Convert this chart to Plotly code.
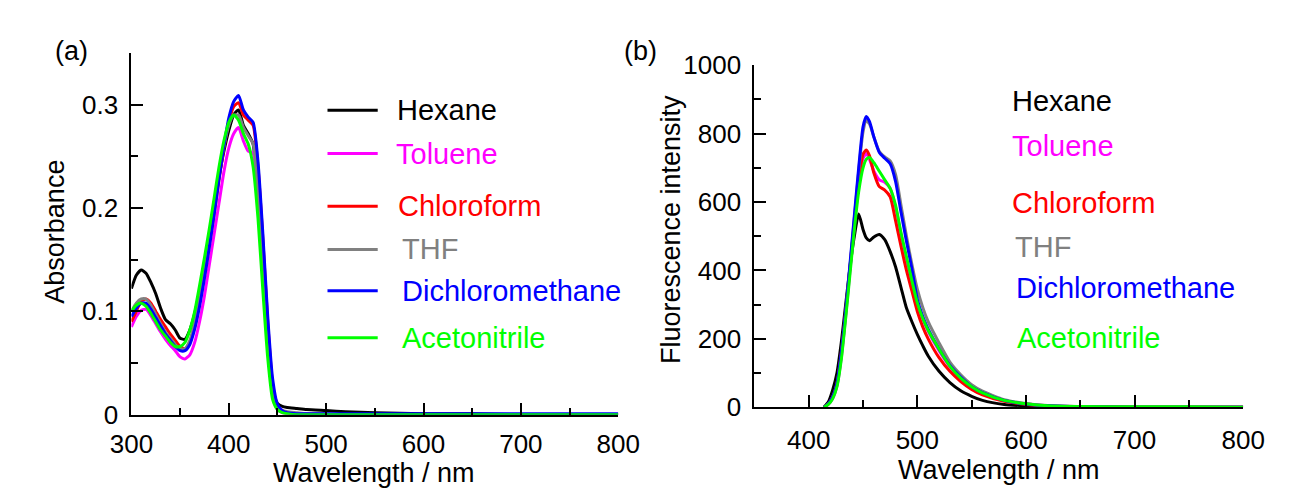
import plotly.graph_objects as go

# ---------------- data: (a) absorption ----------------
abs_wl = [300, 305, 310, 315, 320, 325, 330, 335, 340, 345, 350, 355, 360, 365, 370, 375,
          380, 385, 390, 395, 400, 405, 410, 415, 420, 425, 430, 435, 440, 445, 450, 455,
          460, 470, 480, 500, 520, 550, 600, 650, 700, 750, 800]

abs_hexane = [0.122, 0.135, 0.140, 0.137, 0.128, 0.117, 0.103, 0.092, 0.088, 0.082, 0.074, 0.073,
              0.082, 0.098, 0.120, 0.145, 0.172, 0.200, 0.230, 0.255, 0.275, 0.290, 0.295, 0.280,
              0.272, 0.262, 0.210, 0.140, 0.070, 0.025, 0.011, 0.008, 0.007, 0.006, 0.005, 0.004,
              0.003, 0.002, 0.001, 0.001, 0.0, 0.0, 0.0]
abs_toluene = [0.085, 0.095, 0.101, 0.102, 0.096, 0.088, 0.080, 0.073, 0.067, 0.062, 0.056, 0.054,
               0.058, 0.070, 0.090, 0.115, 0.145, 0.175, 0.205, 0.235, 0.258, 0.272, 0.278, 0.265,
               0.255, 0.253, 0.210, 0.140, 0.070, 0.020, 0.005, 0.002, 0.001, 0.0, 0.0, 0.0,
               0.0, 0.0, 0.0, 0.0, 0.0, 0.0, 0.0]
abs_chloroform = [0.090, 0.100, 0.110, 0.112, 0.108, 0.100, 0.092, 0.085, 0.078, 0.072, 0.066, 0.064,
                  0.070, 0.085, 0.108, 0.135, 0.165, 0.195, 0.228, 0.258, 0.283, 0.298, 0.302, 0.290,
                  0.285, 0.280, 0.240, 0.170, 0.090, 0.030, 0.008, 0.004, 0.002, 0.001, 0.001, 0.0,
                  0.0, 0.0, 0.0, 0.0, 0.0, 0.0, 0.0]
abs_thf = [0.100, 0.108, 0.112, 0.112, 0.106, 0.097, 0.088, 0.080, 0.074, 0.068, 0.064, 0.064,
           0.072, 0.090, 0.113, 0.140, 0.170, 0.200, 0.232, 0.260, 0.280, 0.290, 0.290, 0.278,
           0.270, 0.262, 0.220, 0.150, 0.075, 0.025, 0.008, 0.004, 0.003, 0.002, 0.001, 0.001,
           0.0, 0.0, 0.0, 0.0, 0.0, 0.0, 0.0]
abs_dcm = [0.095, 0.103, 0.108, 0.108, 0.102, 0.094, 0.086, 0.078, 0.072, 0.066, 0.062, 0.062,
           0.068, 0.083, 0.105, 0.132, 0.162, 0.194, 0.228, 0.260, 0.287, 0.303, 0.309, 0.295,
           0.288, 0.283, 0.245, 0.175, 0.095, 0.035, 0.010, 0.004, 0.002, 0.001, 0.001, 0.001,
           0.001, 0.001, 0.001, 0.001, 0.001, 0.001, 0.001]
abs_acetonitrile = [0.100, 0.106, 0.108, 0.105, 0.098, 0.090, 0.082, 0.076, 0.070, 0.066, 0.066, 0.070,
                    0.082, 0.100, 0.125, 0.152, 0.180, 0.210, 0.240, 0.265, 0.283, 0.290, 0.285, 0.272,
                    0.262, 0.240, 0.190, 0.120, 0.055, 0.015, 0.005, 0.002, 0.001, 0.0, 0.0, 0.0,
                    0.0, 0.0, 0.0, 0.0, 0.0, 0.0, 0.0]

# ---------------- data: (b) fluorescence ----------------
fl_wl = [414, 418, 422, 426, 430, 434, 438, 442, 446, 450, 453, 456, 460, 465, 470, 475, 480,
         485, 490, 495, 500, 505, 510, 520, 530, 540, 550, 560, 580, 600, 620, 650, 700, 750, 800]

fl_hexane = [0, 15, 50, 100, 190, 300, 410, 500, 565, 520, 495, 487, 498, 505, 490, 455, 410,
             350, 290, 250, 213, 180, 150, 105, 72, 48, 32, 20, 8, 4, 2, 1, 0, 0, 0]
fl_toluene = [0, 8, 25, 62, 145, 265, 400, 530, 650, 728, 742, 725, 690, 665, 658, 640, 585,
              505, 432, 365, 305, 258, 222, 165, 118, 84, 59, 42, 20, 10, 4, 2, 0, 0, 0]
fl_chloroform = [0, 10, 30, 70, 160, 280, 410, 540, 660, 740, 752, 735, 685, 645, 635, 615, 545,
                 470, 400, 340, 280, 235, 200, 145, 105, 75, 52, 36, 17, 8, 3, 1, 0, 0, 0]
fl_thf = [0, 9, 28, 66, 152, 272, 412, 552, 690, 805, 838, 828, 790, 748, 732, 720, 680,
          590, 500, 418, 345, 292, 250, 188, 132, 95, 66, 47, 22, 11, 5, 2, 0, 0, 0]
fl_dcm = [0, 10, 30, 70, 160, 280, 420, 560, 700, 820, 850, 835, 790, 745, 728, 712, 660,
          570, 485, 405, 315, 265, 228, 170, 122, 88, 60, 43, 20, 9, 4, 1, 0, 0, 0]
fl_acetonitrile = [0, 8, 25, 60, 140, 260, 390, 520, 630, 700, 725, 730, 715, 690, 665, 640, 590,
                   510, 440, 370, 305, 260, 225, 170, 120, 85, 60, 42, 20, 10, 4, 2, 1, 1, 0]

solvents = ["Hexane", "Toluene", "Chloroform", "THF", "Dichloromethane", "Acetonitrile"]
colors = ["#000000", "#FF00FF", "#FF0000", "#808080", "#0000FF", "#00FF00"]
abs_series = [abs_hexane, abs_toluene, abs_chloroform, abs_thf, abs_dcm, abs_acetonitrile]
fl_series = [fl_hexane, fl_toluene, fl_chloroform, fl_thf, fl_dcm, fl_acetonitrile]

W, H = 1290, 495
FONT = "Liberation Sans, Arial, sans-serif"
FS_TICK = 26
FS_TITLE = 27
FS_LEG = 29

def px(x):
    return x / W

def py(y):
    return 1 - y / H

fig = go.Figure()
for name, c, ys in zip(solvents, colors, abs_series):
    fig.add_trace(go.Scatter(x=abs_wl, y=ys, mode="lines", name=name, showlegend=False,
                             line=dict(color=c, width=3, shape="spline", smoothing=0.6),
                             xaxis="x", yaxis="y"))
for name, c, ys in zip(solvents, colors, fl_series):
    fig.add_trace(go.Scatter(x=fl_wl, y=ys, mode="lines", name=name, showlegend=False,
                             line=dict(color=c, width=3, shape="spline", smoothing=0.6),
                             xaxis="x2", yaxis="y2"))

axis_common = dict(showline=True, linecolor="black", linewidth=2, showgrid=False,
                   zeroline=False, ticks="inside", ticklen=12, tickwidth=2, tickcolor="black",
                   tickfont=dict(family=FONT, size=FS_TICK, color="black"))
minor_style = dict(ticklen=7, tickwidth=2, tickcolor="black", ticks="inside")

fig.update_layout(
    width=W, height=H, margin=dict(l=0, r=0, t=0, b=0),
    paper_bgcolor="white", plot_bgcolor="white",
    font=dict(family=FONT, size=FS_TICK, color="black"),
    xaxis=dict(domain=[px(105), px(609)], range=[300, 800], dtick=100, anchor="y",
               minor=dict(dtick=50, **minor_style), ticklabelstandoff=5, **axis_common),
    yaxis=dict(domain=[py(417), py(32)], range=[0, 0.35], dtick=0.1, anchor="x",
               minor=dict(dtick=0.05, **minor_style), ticklabelstandoff=6, **axis_common),
    xaxis2=dict(domain=[px(750), px(1256)], range=[350, 800], dtick=100, anchor="y2",
                minor=dict(dtick=50, **minor_style), ticklabelstandoff=9, **axis_common),
    yaxis2=dict(domain=[py(409), py(45)], range=[0, 1000], dtick=200, anchor="x2",
                minor=dict(dtick=100, **minor_style), ticklabelstandoff=6, **axis_common),
)

ann = []
def text(x, y, s, color="black", xanchor="center", angle=0, size=FS_TITLE):
    ann.append(dict(x=px(x), y=py(y), xref="paper", yref="paper", text=s, showarrow=False,
                    xanchor=xanchor, yanchor="middle", textangle=angle,
                    font=dict(family=FONT, size=size, color=color)))

text(43, 30, "(a)")
text(632, 30, "(b)")
text(25, 222, "Absorbance", angle=-90)
text(663, 220, "Fluorescence intensity", angle=-90)
text(356, 479, "Wavelength / nm")
text(1003, 476, "Wavelength / nm")

leg_a_y = [93, 139, 195, 241, 285, 335]
leg_a_x = [378, 377, 379, 383, 383, 383]
leg_b_y = [83, 131, 192, 238, 282, 335]
leg_b_x = [1015, 1015, 1015, 1018, 1019, 1020]
shapes = []
for name, c, ya, xa, yb, xb in zip(solvents, colors, leg_a_y, leg_a_x, leg_b_y, leg_b_x):
    shapes.append(dict(type="line", xref="paper", yref="paper", x0=px(308), x1=px(360),
                       y0=py(ya), y1=py(ya), line=dict(color=c, width=3)))
    text(xa, ya, name, color=c, xanchor="left", size=FS_LEG)
    text(xb, yb, name, color=c, xanchor="left", size=FS_LEG)

fig.update_layout(annotations=ann, shapes=shapes)
fig.write_html("out.html")
